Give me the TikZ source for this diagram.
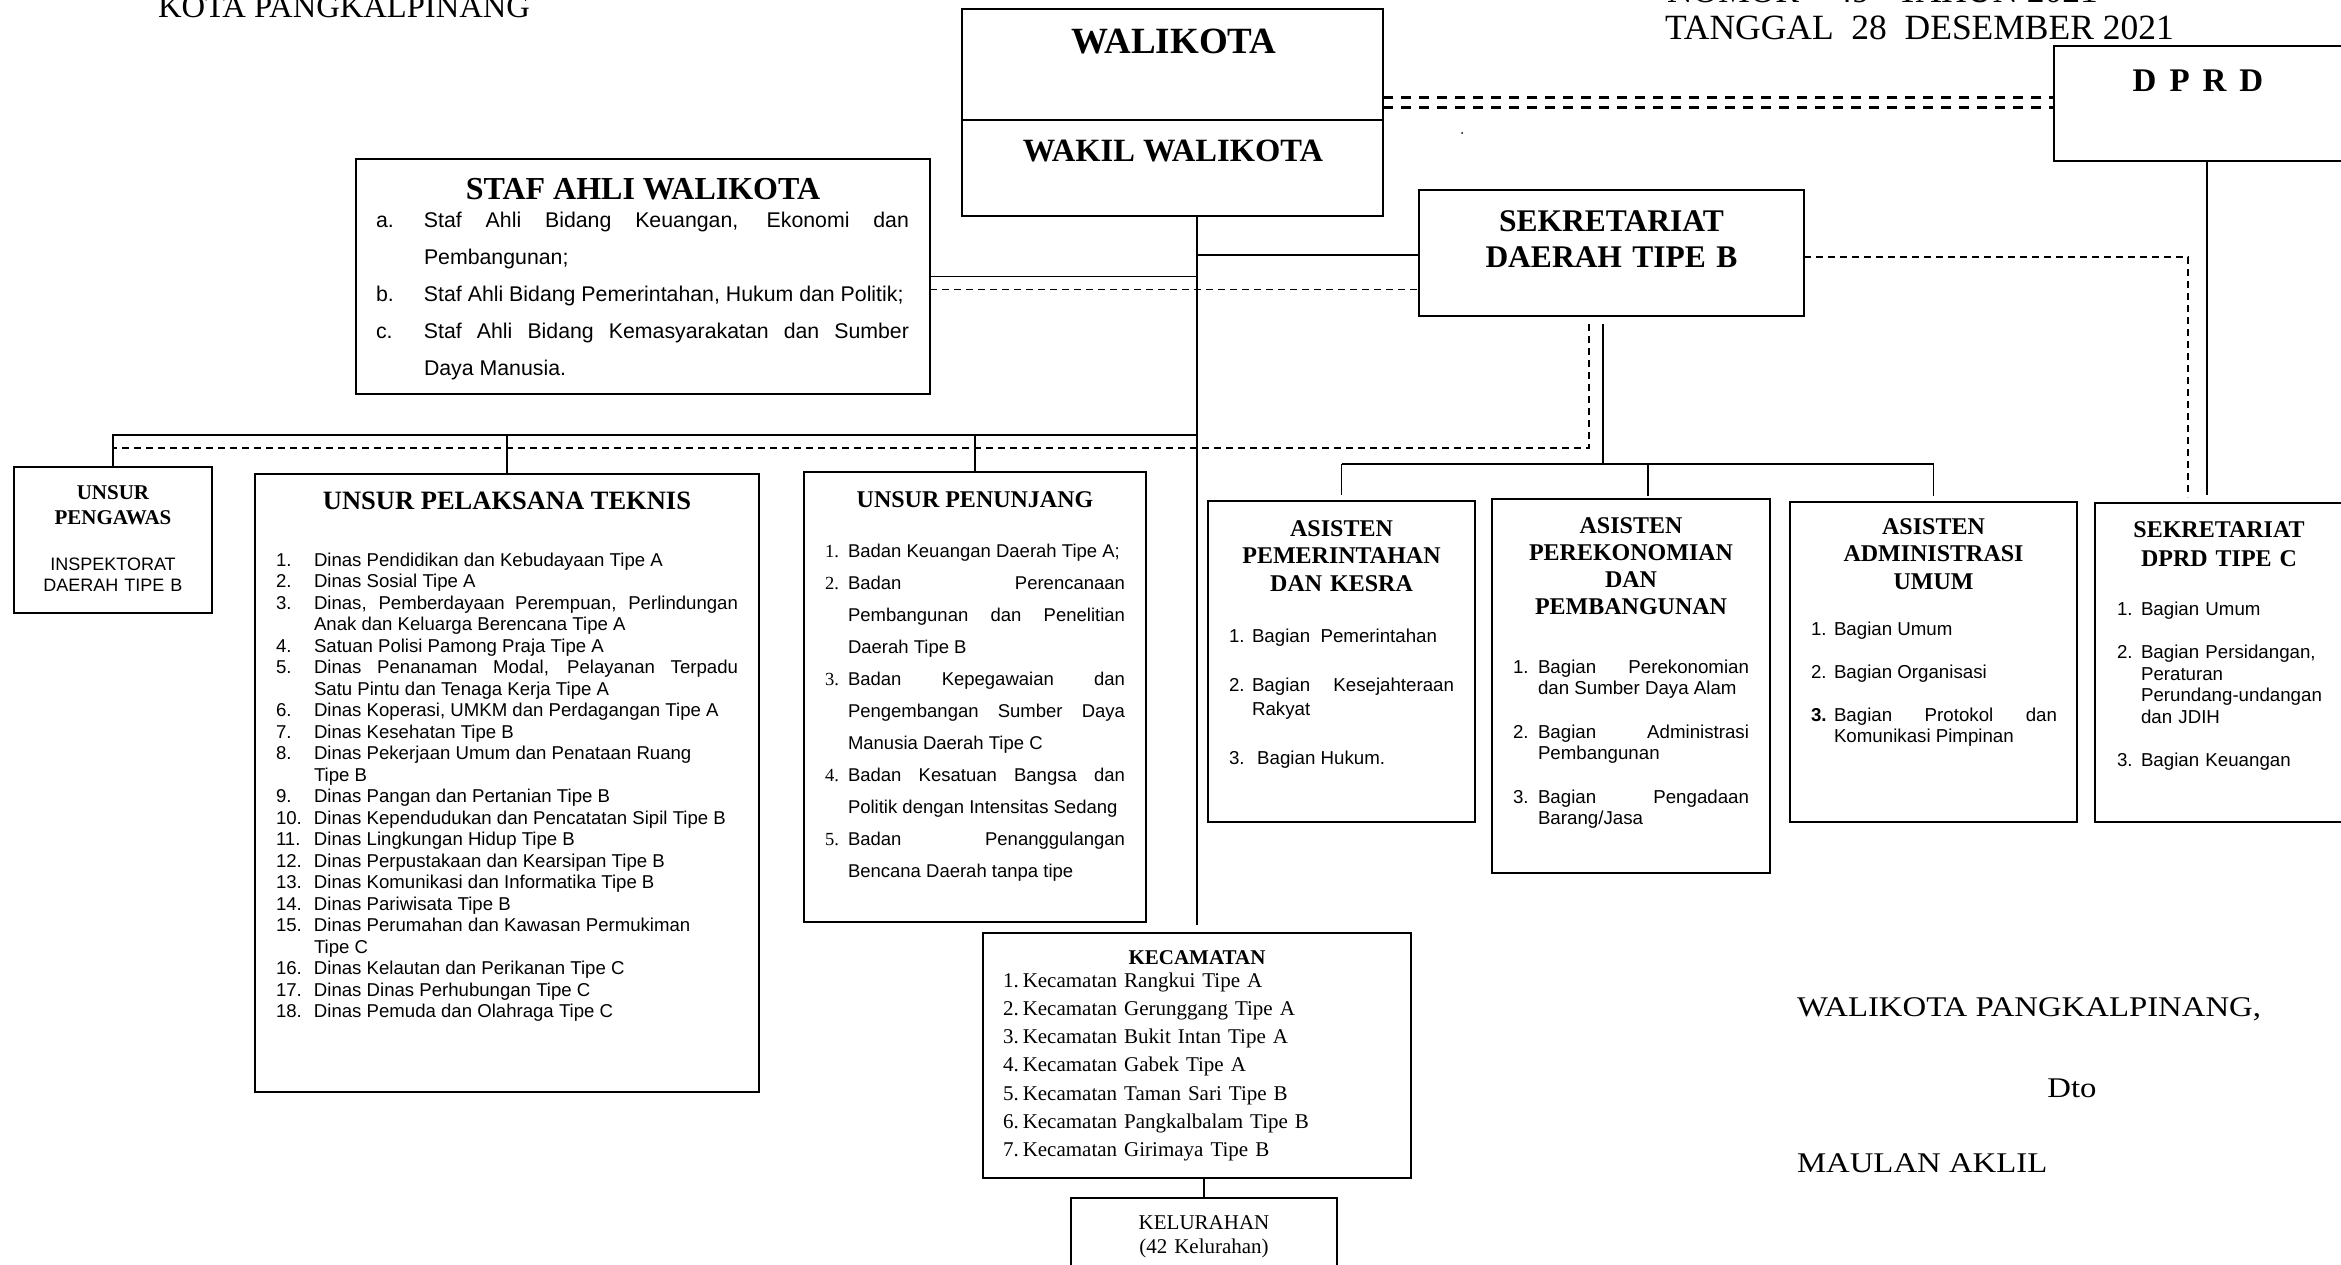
\documentclass[tikz,border=0pt]{standalone}
\usepackage{fontspec}
\setmainfont{Liberation Serif}
\setsansfont{Liberation Sans}
\newfontfamily\sigfont[FakeStretch=1.15]{Liberation Serif}
\newcommand{\fs}[2]{\fontsize{#1}{#2}\selectfont}
\newcommand{\li}[3]{\hangindent=#1\hangafter=1\noindent\makebox[#1][l]{#2}#3\par}
\newcommand{\lprep}{\tolerance=10000\hyphenpenalty=10000\sffamily}
\begin{document}
\begin{tikzpicture}[x=1pt,y=-1pt,
  bx/.style={draw, line width=2.2pt, inner sep=0pt, outer sep=0pt, anchor=north west},
  conn/.style={line width=1.8pt},
  dashln/.style={line width=1.8pt, dash pattern=on 7pt off 5pt},
  ddashln/.style={line width=3pt, dash pattern=on 10pt off 8pt},
  txt/.style={inner sep=0pt, outer sep=0pt}]
\useasboundingbox (0,0) rectangle (2341,1265);
\fill[white] (0,0) rectangle (2341,1265);

% header texts
\node[txt, anchor=base west, font=\fs{32.6}{36}] (kota) at (158,18) {KOTA PANGKALPINANG};
\node[txt, anchor=base west, font=\fs{35.5}{40}] (nomor) at (1667,2.5) {NOMOR\ \ \ \ 49\ \ \ TAHUN 2021};
\node[txt, anchor=base west, font=\fs{35.5}{40}] (tgl) at (1665,40) {TANGGAL\ \ 28\ \ DESEMBER 2021};

% boxes
\node[bx, minimum width=421pt, minimum height=207pt] (wali) at (962,9) {};
\node[bx, minimum width=320pt, minimum height=115pt] (dprd) at (2054,46) {};
\node[bx, minimum width=574pt, minimum height=235pt] (staf) at (356,159) {};
\node[bx, minimum width=385pt, minimum height=126pt] (sekda) at (1419,190) {};
\node[bx, minimum width=198pt, minimum height=146pt] (peng) at (14,467) {};
\node[bx, minimum width=504pt, minimum height=618pt] (pelak) at (255,474) {};
\node[bx, minimum width=342pt, minimum height=450pt] (penun) at (804,472) {};
\node[bx, minimum width=267pt, minimum height=321pt] (apem) at (1208,501) {};
\node[bx, minimum width=278pt, minimum height=374pt] (aper) at (1492,499) {};
\node[bx, minimum width=287pt, minimum height=320pt] (aadm) at (1790,502) {};
\node[bx, minimum width=280pt, minimum height=319pt] (sdprd) at (2095,503) {};
\node[bx, minimum width=428pt, minimum height=245pt] (kec) at (983,933) {};
\node[bx, minimum width=266pt, minimum height=100pt] (kel) at (1071,1198) {};
\draw[line width=2.2pt] (wali.west |- 0,120) -- (wali.east |- 0,120);

% connectors
\draw[ddashln] ([yshift=14.5pt]wali.east) -- ([yshift=14.5pt]wali.east -| dprd.west);
\draw[ddashln] ([yshift=4.5pt]wali.east) -- ([yshift=4.5pt]wali.east -| dprd.west);
\draw[conn, shorten >=8pt] (wali.south -| kec.north) -- (kec.north);
\draw[conn] (staf.east) -- (staf.east -| kec.north);
\draw[dashln] ([yshift=-13pt]staf.east) -- ([yshift=-13pt]staf.east -| sekda.west);
\draw[conn] ([yshift=-2pt]sekda.west -| kec.north) -- ([yshift=-2pt]sekda.west);
\coordinate (dv) at (2188,257);
\draw[dashln, shorten >=6pt] (sekda.east |- dv) -- (dv) -- (dv |- sdprd.north);
\coordinate (sv) at (2207,0);
\draw[conn, shorten >=8pt] (sv |- dprd.south) -- (sv |- sdprd.north);
\coordinate (bus) at (1603,464);
\draw[conn, shorten <=8pt] (sekda.south -| bus) -- (bus);
\draw[conn] (apem.north |- bus) -- (aadm.north |- bus);
\draw[conn, shorten >=6pt] (apem.north |- bus) -- (apem.north);
\coordinate (bp) at (1648,464);
\draw[conn, shorten >=3pt] (bp) -- (bp |- aper.north);
\draw[conn, shorten >=6pt] (aadm.north |- bus) -- (aadm.north);
\coordinate (dl) at (1589,448);
\draw[dashln, shorten <=8pt] (sekda.south -| dl) -- (dl) -- (dl -| peng.north);
\coordinate (lb) at (1197,435);
\draw[conn] (lb) -- (lb -| peng.north) -- (peng.north);
\draw[conn] (lb -| pelak.north) -- (pelak.north);
\draw[conn] (lb -| penun.north) -- (penun.north);
\draw[conn] (kec.south -| kel.north) -- (kel.north);
\fill (1462,133) circle (1pt);

% texts
\node[txt, anchor=base, font=\bfseries\fs{37}{40}] (twali) at (1174,54) {WALIKOTA};
\node[txt, anchor=base, font=\bfseries\fs{32.5}{36}] (twakil) at (1173,162) {WAKIL WALIKOTA};
\node[txt, anchor=base, font=\bfseries\fs{33}{36}] (tdprd) at (2198,92) {D\hspace{13pt}P\hspace{13pt}R\hspace{13pt}D};
\node[txt, anchor=base, font=\bfseries\fs{32}{36}] (tstaf) at (643,200) {STAF AHLI WALIKOTA};
\node[txt, anchor=base west, text width=533pt, align=justify, font=\sffamily\fs{21.3}{37}] (lstaf) at (376,228) {\lprep%
\li{48pt}{a.}{Staf Ahli Bidang Keuangan, Ekonomi dan\linebreak Pembangunan;}%
\li{48pt}{b.}{Staf Ahli Bidang Pemerintahan, Hukum dan Politik;}%
\li{48pt}{c.}{Staf Ahli Bidang Kemasyarakatan dan Sumber\linebreak Daya Manusia.}};
\node[txt, anchor=base, text width=385pt, align=center, font=\bfseries\fs{31.5}{36}] (tsekda) at (1611.5,232) {SEKRETARIAT\\DAERAH TIPE B};

\node[txt, anchor=base, text width=190pt, align=center, font=\bfseries\fs{21}{24.5}] (tpeng) at (113,499.5) {UNSUR\\PENGAWAS};
\node[txt, anchor=base, text width=190pt, align=center, font=\sffamily\fs{18}{21}] (lpeng) at (113,570) {INSPEKTORAT\\DAERAH TIPE B};

\node[txt, anchor=base, font=\bfseries\fs{26.5}{30}] (tpelak) at (507,509) {UNSUR PELAKSANA TEKNIS};
\node[txt, anchor=base west, text width=462pt, align=justify, font=\sffamily\fs{18.6}{21.5}] (lpelak) at (276,566) {\lprep%
\li{38pt}{1.}{Dinas Pendidikan dan Kebudayaan Tipe A}%
\li{38pt}{2.}{Dinas Sosial Tipe A}%
\li{38pt}{3.}{Dinas, Pemberdayaan Perempuan, Perlindungan\linebreak Anak dan Keluarga Berencana Tipe A}%
\li{38pt}{4.}{Satuan Polisi Pamong Praja Tipe A}%
\li{38pt}{5.}{Dinas Penanaman Modal, Pelayanan Terpadu\linebreak Satu Pintu dan Tenaga Kerja Tipe A}%
\li{38pt}{6.}{Dinas Koperasi, UMKM dan Perdagangan Tipe A}%
\li{38pt}{7.}{Dinas Kesehatan Tipe B}%
\li{38pt}{8.}{Dinas Pekerjaan Umum dan Penataan Ruang\newline Tipe B}%
\li{38pt}{9.}{Dinas Pangan dan Pertanian Tipe B}%
\li{38pt}{10.}{Dinas Kependudukan dan Pencatatan Sipil Tipe B}%
\li{38pt}{11.}{Dinas Lingkungan Hidup Tipe B}%
\li{38pt}{12.}{Dinas Perpustakaan dan Kearsipan Tipe B}%
\li{38pt}{13.}{Dinas Komunikasi dan Informatika Tipe B}%
\li{38pt}{14.}{Dinas Pariwisata Tipe B}%
\li{38pt}{15.}{Dinas Perumahan dan Kawasan Permukiman\newline Tipe C}%
\li{38pt}{16.}{Dinas Kelautan dan Perikanan Tipe C}%
\li{38pt}{17.}{Dinas Dinas Perhubungan Tipe C}%
\li{38pt}{18.}{Dinas Pemuda dan Olahraga Tipe C}};

\node[txt, anchor=base, font=\bfseries\fs{24}{28}] (tpenun) at (975,507) {UNSUR PENUNJANG};
\node[txt, anchor=base west, text width=300pt, align=justify, font=\sffamily\fs{18.5}{32}] (lpenun) at (825,557) {\lprep%
\li{23pt}{\rmfamily 1.}{Badan Keuangan Daerah Tipe A;}%
\li{23pt}{\rmfamily 2.}{Badan Perencanaan\linebreak Pembangunan dan Penelitian\linebreak Daerah Tipe B}%
\li{23pt}{\rmfamily 3.}{Badan Kepegawaian dan\linebreak Pengembangan Sumber Daya\linebreak Manusia Daerah Tipe C}%
\li{23pt}{\rmfamily 4.}{Badan Kesatuan Bangsa dan\linebreak Politik dengan Intensitas Sedang}%
\li{23pt}{\rmfamily 5.}{Badan Penanggulangan\linebreak Bencana Daerah tanpa tipe}};

\node[txt, anchor=base, text width=260pt, align=center, font=\bfseries\fs{24}{27.5}] (tapem) at (1341.5,536) {ASISTEN\\PEMERINTAHAN\\DAN KESRA};
\node[txt, anchor=base west, text width=225pt, align=justify, font=\sffamily\fs{18.7}{24.5}] (lapem) at (1229,642) {\lprep\setlength{\parskip}{24.5pt}%
\li{23pt}{1.}{Bagian\ \ Pemerintahan}%
\li{23pt}{2.}{Bagian Kesejahteraan\linebreak Rakyat}%
\li{23pt}{3.}{\ Bagian Hukum.}};

\node[txt, anchor=base, text width=270pt, align=center, font=\bfseries\fs{24}{27.3}] (taper) at (1631,533) {ASISTEN\\PEREKONOMIAN\\DAN\\PEMBANGUNAN};
\node[txt, anchor=base west, text width=236pt, align=justify, font=\sffamily\fs{18.7}{21}] (laper) at (1513,673) {\lprep\setlength{\parskip}{23pt}%
\li{25pt}{1.}{Bagian Perekonomian\linebreak dan Sumber Daya Alam}%
\li{25pt}{2.}{Bagian Administrasi\linebreak Pembangunan}%
\li{25pt}{3.}{Bagian Pengadaan\linebreak Barang/Jasa}};

\node[txt, anchor=base, text width=280pt, align=center, font=\bfseries\fs{24}{27.5}] (taadm) at (1933.5,534) {ASISTEN\\ADMINISTRASI\\UMUM};
\node[txt, anchor=base west, text width=246pt, align=justify, font=\sffamily\fs{18.7}{21}] (laadm) at (1811,635) {\lprep\setlength{\parskip}{22pt}%
\li{23pt}{1.}{Bagian Umum}%
\li{23pt}{2.}{Bagian Organisasi}%
\li{23pt}{\textbf{3.}}{Bagian Protokol dan\linebreak Komunikasi Pimpinan}};

\node[txt, anchor=base, text width=270pt, align=center, font=\bfseries\fs{24}{29}] (tsdprd) at (2219,537) {SEKRETARIAT\\DPRD TIPE C};
\node[txt, anchor=base west, text width=240pt, align=left, font=\sffamily\fs{18.7}{21.5}] (lsdprd) at (2117,615) {\lprep\setlength{\parskip}{22pt}%
\li{24pt}{1.}{Bagian Umum}%
\li{24pt}{2.}{Bagian Persidangan,\newline Peraturan\newline Perundang-undangan\newline dan JDIH}%
\li{24pt}{3.}{Bagian Keuangan}};

\node[txt, anchor=base, font=\bfseries\fs{21}{24}] (tkec) at (1197,964) {KECAMATAN};
\node[txt, anchor=base west, text width=400pt, align=left, font=\fs{21}{28.3}] (lkec) at (1003,987) {%
1.\hspace{4pt}Kecamatan Rangkui Tipe A\\
2.\hspace{4pt}Kecamatan Gerunggang Tipe A\\
3.\hspace{4pt}Kecamatan Bukit Intan Tipe A\\
4.\hspace{4pt}Kecamatan Gabek Tipe A\\
5.\hspace{4pt}Kecamatan Taman Sari Tipe B\\
6.\hspace{4pt}Kecamatan Pangkalbalam Tipe B\\
7.\hspace{4pt}Kecamatan Girimaya Tipe B};
\node[txt, anchor=base, text width=260pt, align=center, font=\fs{21}{24}] (tkel) at (1204,1229) {KELURAHAN\\(42 Kelurahan)};

\node[txt, anchor=base west, font=\sigfont\fs{28.5}{32}] (sig1) at (1797,1016) {WALIKOTA PANGKALPINANG,};
\node[txt, anchor=base, font=\sigfont\fs{28.5}{32}] (sig2) at (2072,1097) {Dto};
\node[txt, anchor=base west, font=\sigfont\fs{28.5}{32}] (sig3) at (1797,1172) {MAULAN AKLIL};
\end{tikzpicture}
\end{document}
